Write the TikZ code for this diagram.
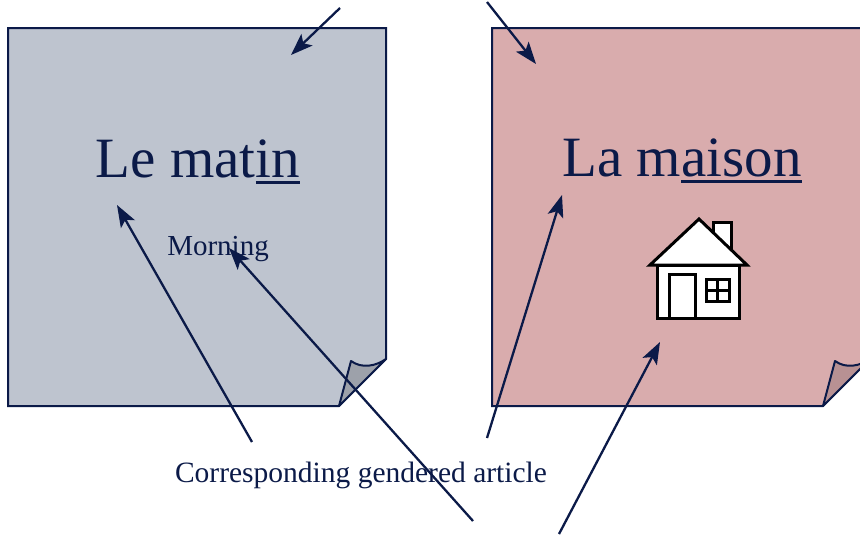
\documentclass[tikz,border=0pt]{standalone}
\usepackage{fontspec}
\setmainfont{Liberation Serif}
\usepackage{tikz}
\usetikzlibrary{arrows.meta}
\usetikzlibrary{positioning}
\definecolor{navy}{HTML}{0B1A48}
\definecolor{slate}{HTML}{BEC4CF}
\definecolor{slatefold}{HTML}{9DA1AA}
\definecolor{rose}{HTML}{D9ACAD}
\definecolor{rosefold}{HTML}{B89193}
\newcommand\thickul[1]{\setbox0\hbox{#1}\rlap{\rule[-6.5pt]{\wd0}{3pt}}\box0}

\begin{document}
\begin{tikzpicture}[x=1pt, y=-1pt,
      note/.style ={draw=navy, line width=2pt, line join=miter},
      fold/.style ={draw=navy, line width=2pt, line join=round},
      word/.style ={text=navy, anchor=base, inner sep=0pt, font=\fontsize{57}{60}\selectfont},
      gloss/.style ={text=navy, anchor=base, inner sep=0pt, font=\fontsize{29}{31}\selectfont},
      caption/.style ={text=navy, anchor=base, inner sep=0pt, font=\fontsize{29.5}{32}\selectfont},
      pointer/.style ={draw=navy, line width=2.3pt, -{Stealth[length=22pt, width=16pt, inset=5pt]}},
      house/.style ={draw=black, line width=3pt, fill=white, line join=miter}
    ]
    \useasboundingbox (0,0) rectangle (860,538);

    % sticky notes
    \fill [slate] (8,28) -- (386,28) -- (386,359) -- (339,406) -- (8,406) -- cycle;
    \draw [note] (8,28) -- (386,28) -- (386,359) -- (339,406) -- (8,406) -- cycle;
    \draw [fold, fill=slatefold] (339,406) -- (351,361) .. controls (362,369) and (376,366) .. (386,359) -- cycle;

    \begin{scope}[xshift=484pt]
      \fill [rose] (8,28) -- (386,28) -- (386,359) -- (339,406) -- (8,406) -- cycle;
      \draw [note] (8,28) -- (386,28) -- (386,359) -- (339,406) -- (8,406) -- cycle;
      \draw [fold, fill=rosefold] (339,406) -- (351,361) .. controls (362,369) and (376,366) .. (386,359) -- cycle;
    \end{scope}

    % house
    \draw [house] (713,233) -- (713,222) -- (731,222) -- (731,250);
    \draw [house] (650,265) -- (699,219) -- (747,265) -- cycle;
    \draw [house] (657,265) rectangle (739,318);
    \draw [house] (669,274) rectangle (695,318);
    \draw [house] (706,279) rectangle (729,301);
    \draw [black, line width=3pt] (717.5,279) -- (717.5,301) (706,290) -- (729,290);
    \coordinate (house) at (660,342);

    % words
    \node [word] (matin) at (198,177) {Le mat\thickul{in}};
    \node [gloss] (morning) at (218,255) {Morning};
    \node [word] (maison) at (682,176) {La m\thickul{aison}};
    \node [caption] (article) at (361,482) {Corresponding gendered article};

    % free ends
    \coordinate (top left) at (340,8);
    \coordinate (top right) at (487,2);
    \coordinate (note left) at (291,55);
    \coordinate (note right) at (536,64);
    \coordinate (art left) at (252,442);
    \coordinate (art right) at (487,438);
    \coordinate (le) at (117,205);
    \coordinate (la) at (562,195);
    \coordinate (bottom mid) at (473,521);
    \coordinate (bottom right) at (559,534);
    \coordinate (morn) at (229,248);

    \draw [pointer] (top left) -- (note left);
    \draw [pointer] (top right) -- (note right);
    \draw [pointer] (art left) -- (le);
    \draw [pointer] (art right) -- (la);
    \draw [pointer] (bottom mid) -- (morn);
    \draw [pointer] (bottom right) -- (house);
  \end{tikzpicture}
\end{document}
